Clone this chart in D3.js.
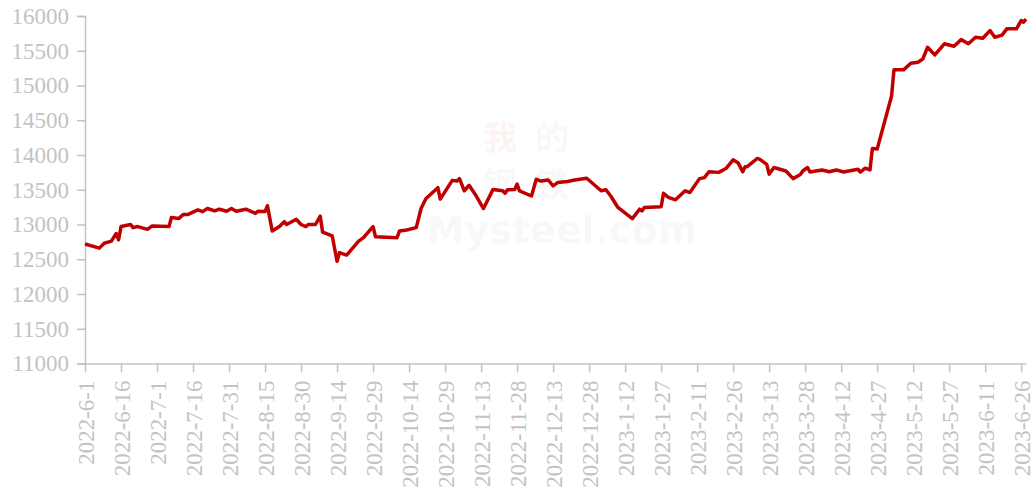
<!DOCTYPE html>
<html>
<head>
<meta charset="utf-8">
<script src="https://cdn.jsdelivr.net/npm/d3@7"></script>
<style>
  html, body { margin: 0; padding: 0; background: #ffffff; }
  svg { display: block; }
</style>
</head>
<body>
<svg id="chart" width="1033" height="495"></svg>
<script>
const dates = [
  "2022-06-01","2022-06-07","2022-06-09","2022-06-12","2022-06-14","2022-06-15","2022-06-16","2022-06-20",
  "2022-06-21","2022-06-23","2022-06-27","2022-06-29","2022-07-06","2022-07-07","2022-07-10","2022-07-12",
  "2022-07-14","2022-07-18","2022-07-20","2022-07-22","2022-07-25","2022-07-27","2022-07-30","2022-08-01",
  "2022-08-03","2022-08-07","2022-08-11","2022-08-12","2022-08-15","2022-08-16","2022-08-18","2022-08-21",
  "2022-08-23","2022-08-24","2022-08-28","2022-08-30","2022-09-01","2022-09-02","2022-09-05","2022-09-07",
  "2022-09-08","2022-09-12","2022-09-14","2022-09-15","2022-09-18","2022-09-23","2022-09-25","2022-09-29",
  "2022-09-30","2022-10-09","2022-10-10","2022-10-13","2022-10-17","2022-10-19","2022-10-21","2022-10-23",
  "2022-10-26","2022-10-27","2022-11-01","2022-11-03","2022-11-04","2022-11-06","2022-11-08","2022-11-11",
  "2022-11-14","2022-11-18","2022-11-22","2022-11-23","2022-11-24","2022-11-27","2022-11-28","2022-11-29",
  "2022-12-04","2022-12-06","2022-12-08","2022-12-11","2022-12-13","2022-12-15","2022-12-19","2022-12-22",
  "2022-12-27","2023-01-02","2023-01-04","2023-01-06","2023-01-09","2023-01-15","2023-01-18","2023-01-19",
  "2023-01-20","2023-01-27","2023-01-28","2023-01-30","2023-02-02","2023-02-06","2023-02-08","2023-02-12",
  "2023-02-14","2023-02-16","2023-02-20","2023-02-23","2023-02-26","2023-02-28","2023-03-02","2023-03-03",
  "2023-03-04","2023-03-08","2023-03-09","2023-03-12","2023-03-13","2023-03-15","2023-03-20","2023-03-23",
  "2023-03-26","2023-03-27","2023-03-29","2023-03-30","2023-04-04","2023-04-07","2023-04-10","2023-04-13",
  "2023-04-19","2023-04-20","2023-04-22","2023-04-24","2023-04-25","2023-04-27","2023-05-03","2023-05-04",
  "2023-05-08","2023-05-11","2023-05-14","2023-05-16","2023-05-18","2023-05-21","2023-05-25","2023-05-29",
  "2023-06-01","2023-06-04","2023-06-07","2023-06-10","2023-06-13","2023-06-15","2023-06-18","2023-06-20",
  "2023-06-24","2023-06-26","2023-06-27","2023-06-28"
];
const prices = [
  12720,12660,12730,12760,12870,12780,12970,13000,
  12955,12970,12930,12980,12970,13100,13085,13145,
  13145,13210,13185,13230,13195,13220,13190,13230,
  13190,13220,13160,13190,13186,13270,12905,12970,
  13040,13000,13075,13000,12970,13000,13000,13120,
  12890,12835,12470,12595,12560,12760,12810,12970,
  12825,12810,12905,12920,12955,13230,13370,13435,
  13530,13365,13635,13625,13660,13485,13565,13410,
  13230,13505,13485,13450,13500,13505,13580,13485,
  13410,13650,13625,13640,13555,13605,13620,13640,
  13665,13485,13500,13410,13245,13085,13220,13195,
  13245,13255,13450,13390,13355,13485,13460,13660,
  13675,13760,13750,13805,13930,13890,13760,13830,
  13835,13950,13940,13865,13725,13820,13770,13660,
  13720,13770,13820,13755,13785,13760,13785,13755,
  13795,13755,13810,13785,14095,14085,14850,15225,
  15225,15320,15335,15380,15550,15440,15600,15565,
  15660,15600,15695,15680,15790,15695,15725,15815,
  15815,15935,15910,15955
];
const tickLabels = [
  "2022-6-1","2022-6-16","2022-7-1","2022-7-16","2022-7-31","2022-8-15","2022-8-30",
  "2022-9-14","2022-9-29","2022-10-14","2022-10-29","2022-11-13","2022-11-28","2022-12-13",
  "2022-12-28","2023-1-12","2023-1-27","2023-2-11","2023-2-26","2023-3-13","2023-3-28",
  "2023-4-12","2023-4-27","2023-5-12","2023-5-27","2023-6-11","2023-6-26"
];
const yTicks = [11000,11500,12000,12500,13000,13500,14000,14500,15000,15500,16000];

const parse = d3.utcParse("%Y-%m-%d");
const data = dates.map((d, i) => ({ date: parse(d), value: prices[i] }));

const svg = d3.select("#chart");
const axisColor = "#c3c3c3";
const labelColor = "#c3c3c3";
const fontFam = "'Liberation Serif', 'Times New Roman', serif";

const x = d3.scaleUtc()
  .domain([parse("2022-06-01"), parse("2023-06-28")])
  .range([85, 1026]);
const y = d3.scaleLinear().domain([11000, 16000]).range([363.5, 16]);

// watermark
const wm = svg.append("g").attr("pointer-events", "none");
const cjk = [["我", 500, 150, "#d84a3a"], ["的", 552, 150, "#7d8fb5"], ["钢", 500, 197, "#7d8fb5"], ["铁", 552, 197, "#7d8fb5"]];
cjk.forEach(c => {
  wm.append("text").attr("x", c[1]).attr("y", c[2]).attr("text-anchor", "middle")
    .attr("font-family", "'Noto Sans CJK SC', sans-serif").attr("font-weight", "bold")
    .attr("font-size", 34).attr("fill", c[3]).attr("fill-opacity", 0.07).text(c[0]);
});
wm.append("text").attr("x", 562).attr("y", 243).attr("text-anchor", "middle")
  .attr("font-family", "'DejaVu Sans', sans-serif").attr("font-weight", "bold")
  .attr("font-size", 38).attr("fill", "#9a9a9a").attr("fill-opacity", 0.07).text("Mysteel.com");

// y axis
const yAxis = svg.append("g")
  .attr("transform", "translate(85,0)")
  .call(d3.axisLeft(y).tickValues(yTicks).tickSize(8).tickPadding(8).tickFormat(d3.format("d")));
yAxis.select(".domain").attr("stroke", axisColor).attr("stroke-width", 1.5);
yAxis.selectAll(".tick line").attr("stroke", axisColor).attr("stroke-width", 1.5);
yAxis.selectAll(".tick text").attr("fill", labelColor)
  .attr("font-family", fontFam).attr("font-size", 23);

// x axis
const xAxis = svg.append("g")
  .attr("transform", "translate(0,363.5)")
  .call(d3.axisBottom(x).tickValues(tickLabels.map(t => parse(t.replace(/-(\d)(?=-|$)/g, "-0$1"))))
    .tickSize(9).tickSizeOuter(0).tickFormat((d, i) => tickLabels[i]));
xAxis.select(".domain").attr("stroke", axisColor).attr("stroke-width", 1.5);
xAxis.selectAll(".tick line").attr("stroke", axisColor).attr("stroke-width", 1.5);
xAxis.selectAll(".tick text")
  .attr("fill", labelColor)
  .attr("font-family", fontFam).attr("font-size", 23)
  .attr("text-anchor", "end")
  .attr("transform", "rotate(-90)")
  .attr("x", -17).attr("y", 0).attr("dy", "0.35em");

// line
const line = d3.line().x(d => x(d.date)).y(d => y(d.value));
svg.append("path")
  .datum(data)
  .attr("fill", "none")
  .attr("stroke", "#c00000")
  .attr("stroke-width", 3.5)
  .attr("stroke-linejoin", "round")
  .attr("d", line);
</script>
</body>
</html>
